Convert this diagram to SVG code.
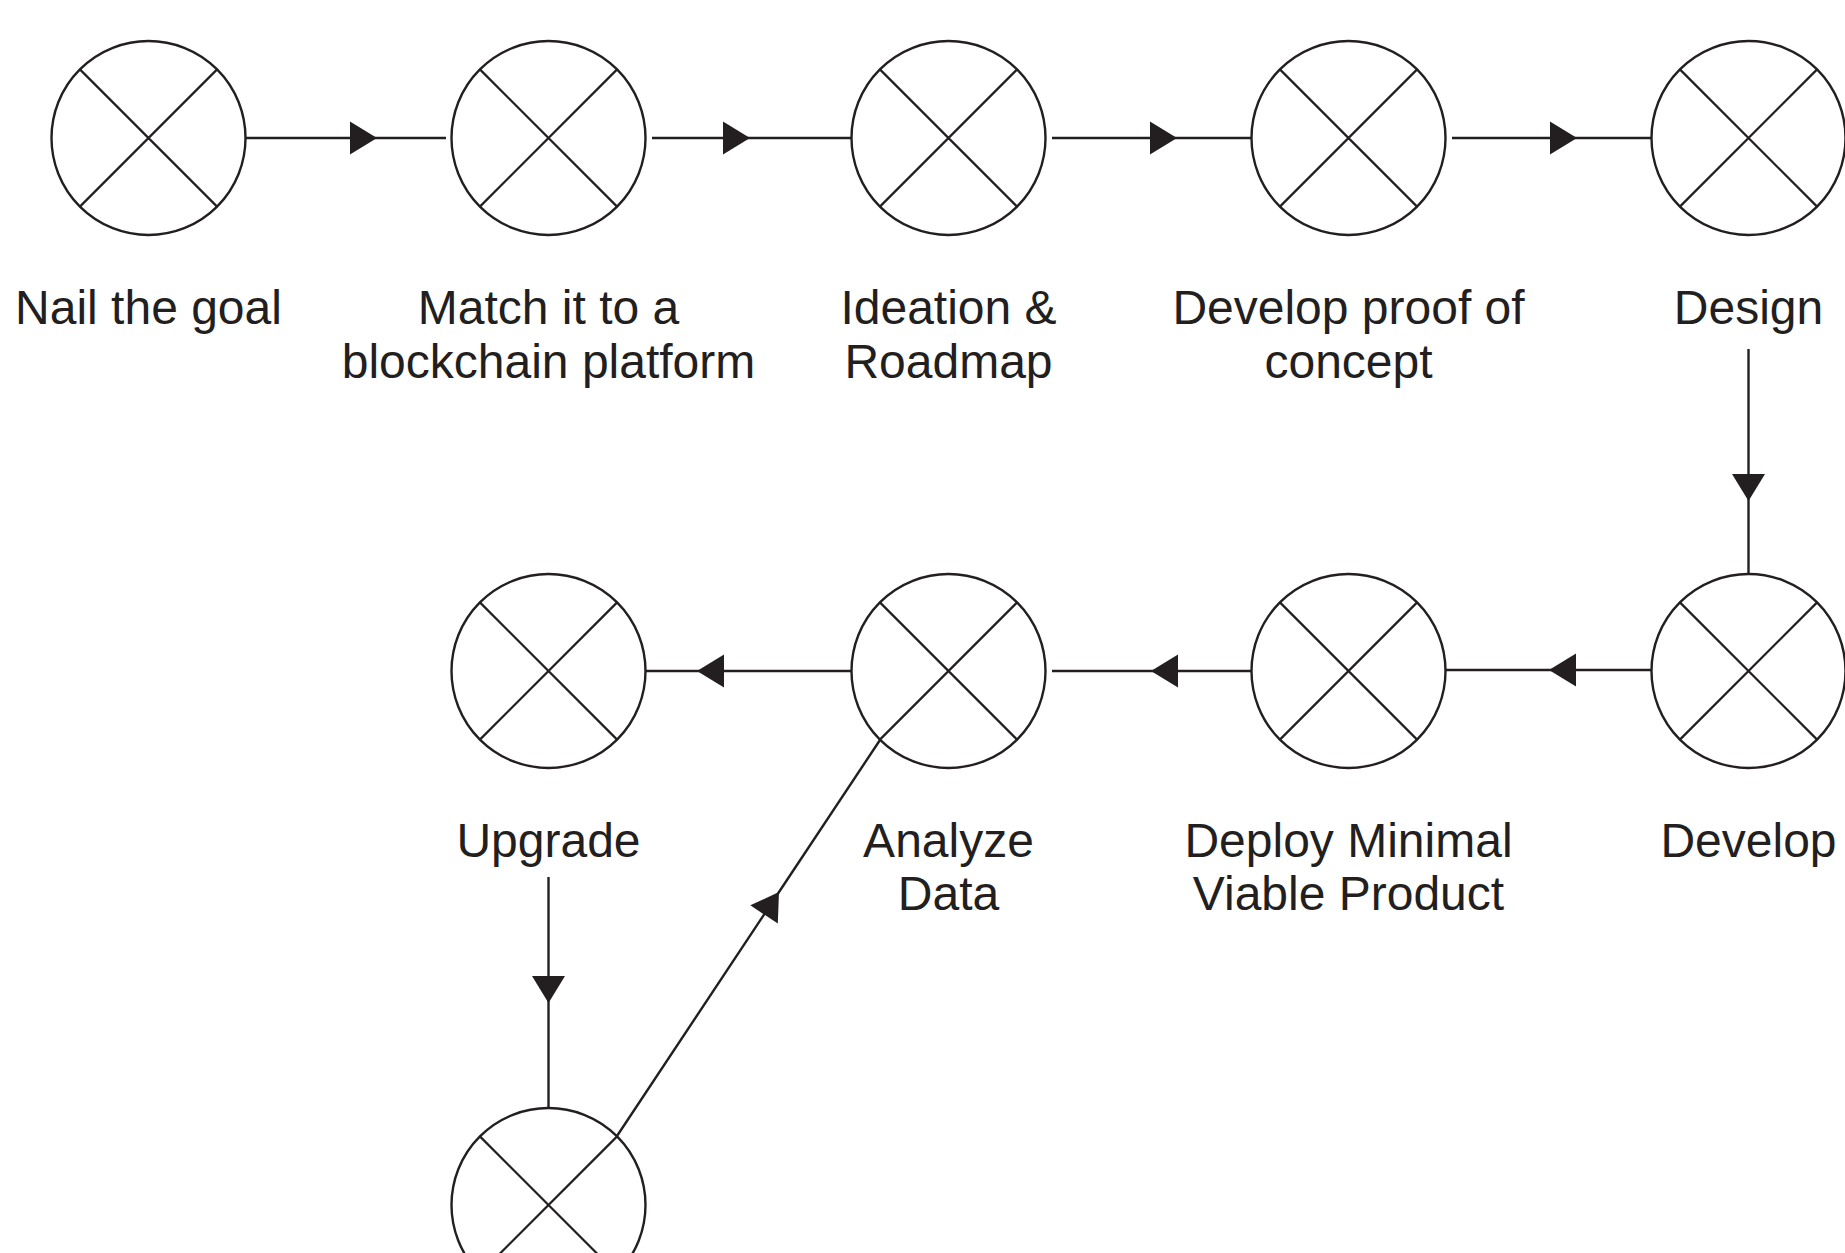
<svg xmlns="http://www.w3.org/2000/svg" xmlns:xlink="http://www.w3.org/1999/xlink" width="1845" height="1253" viewBox="0 0 1845 1253">
<style>
.ring{fill:#fff;stroke:#231f20;stroke-width:2.4}
.x{stroke:#231f20;stroke-width:2.2;fill:none}
.conn{fill:none;stroke:#231f20;stroke-width:2.4;marker-mid:url(#arr)}
.lbl{font-family:"Liberation Sans",Arial,sans-serif;font-size:48px;fill:#231f20;text-anchor:middle}
</style>
<defs>
<marker id="arr" markerUnits="userSpaceOnUse" markerWidth="40" markerHeight="40" viewBox="-30 -20 40 40" refX="0" refY="0" orient="auto">
<path d="M0,0 L-27,-16.5 L-27,16.5 Z" fill="#231f20"/>
</marker>
<g id="node">
<circle class="ring" cx="0" cy="0" r="97"/>
<path class="x" d="M-68.6,-68.6 L68.6,68.6 M68.6,-68.6 L-68.6,68.6"/>
</g>
</defs>
<rect width="1845" height="1253" fill="#fff"/>
<g id="connectors">
<polyline class="conn" points="240,138 377,138 446,138"/>
<polyline class="conn" points="652,138 750,138 858,138"/>
<polyline class="conn" points="1052,138 1177,138 1258,138"/>
<polyline class="conn" points="1452,138 1577,138 1658,138"/>
<polyline class="conn" points="1748.5,349 1748.5,501 1748.5,582"/>
<polyline class="conn" points="1652,670 1549,670 1446,670"/>
<polyline class="conn" points="1257,671 1151,671 1052,671"/>
<polyline class="conn" points="851,671 697,671 646,671"/>
<polyline class="conn" points="548.5,877 548.5,1003 548.5,1108"/>
<polyline class="conn" points="617,1136 779,892 880,740"/>
</g>
<g id="n1"><use xlink:href="#node" x="148.5" y="138"/><text class="lbl" x="148.5" y="324">Nail the goal</text></g>
<g id="n2"><use xlink:href="#node" x="548.5" y="138"/><text class="lbl" x="548.5" y="324">Match it to a</text><text class="lbl" x="548.5" y="378">blockchain platform</text></g>
<g id="n3"><use xlink:href="#node" x="948.5" y="138"/><text class="lbl" x="948.5" y="324">Ideation &amp;</text><text class="lbl" x="948.5" y="378">Roadmap</text></g>
<g id="n4"><use xlink:href="#node" x="1348.5" y="138"/><text class="lbl" x="1348.5" y="324">Develop proof of</text><text class="lbl" x="1348.5" y="378">concept</text></g>
<g id="n5"><use xlink:href="#node" x="1748.5" y="138"/><text class="lbl" x="1748.5" y="324">Design</text></g>
<g id="n6"><use xlink:href="#node" x="1748.5" y="671"/><text class="lbl" x="1748.5" y="857">Develop</text></g>
<g id="n7"><use xlink:href="#node" x="1348.5" y="671"/><text class="lbl" x="1348.5" y="857">Deploy Minimal</text><text class="lbl" x="1348.5" y="910">Viable Product</text></g>
<g id="n8"><use xlink:href="#node" x="948.5" y="671"/><text class="lbl" x="948.5" y="857">Analyze</text><text class="lbl" x="948.5" y="910">Data</text></g>
<g id="n9"><use xlink:href="#node" x="548.5" y="671"/><text class="lbl" x="548.5" y="857">Upgrade</text></g>
<g id="n10"><use xlink:href="#node" x="548.5" y="1205"/></g>
</svg>
